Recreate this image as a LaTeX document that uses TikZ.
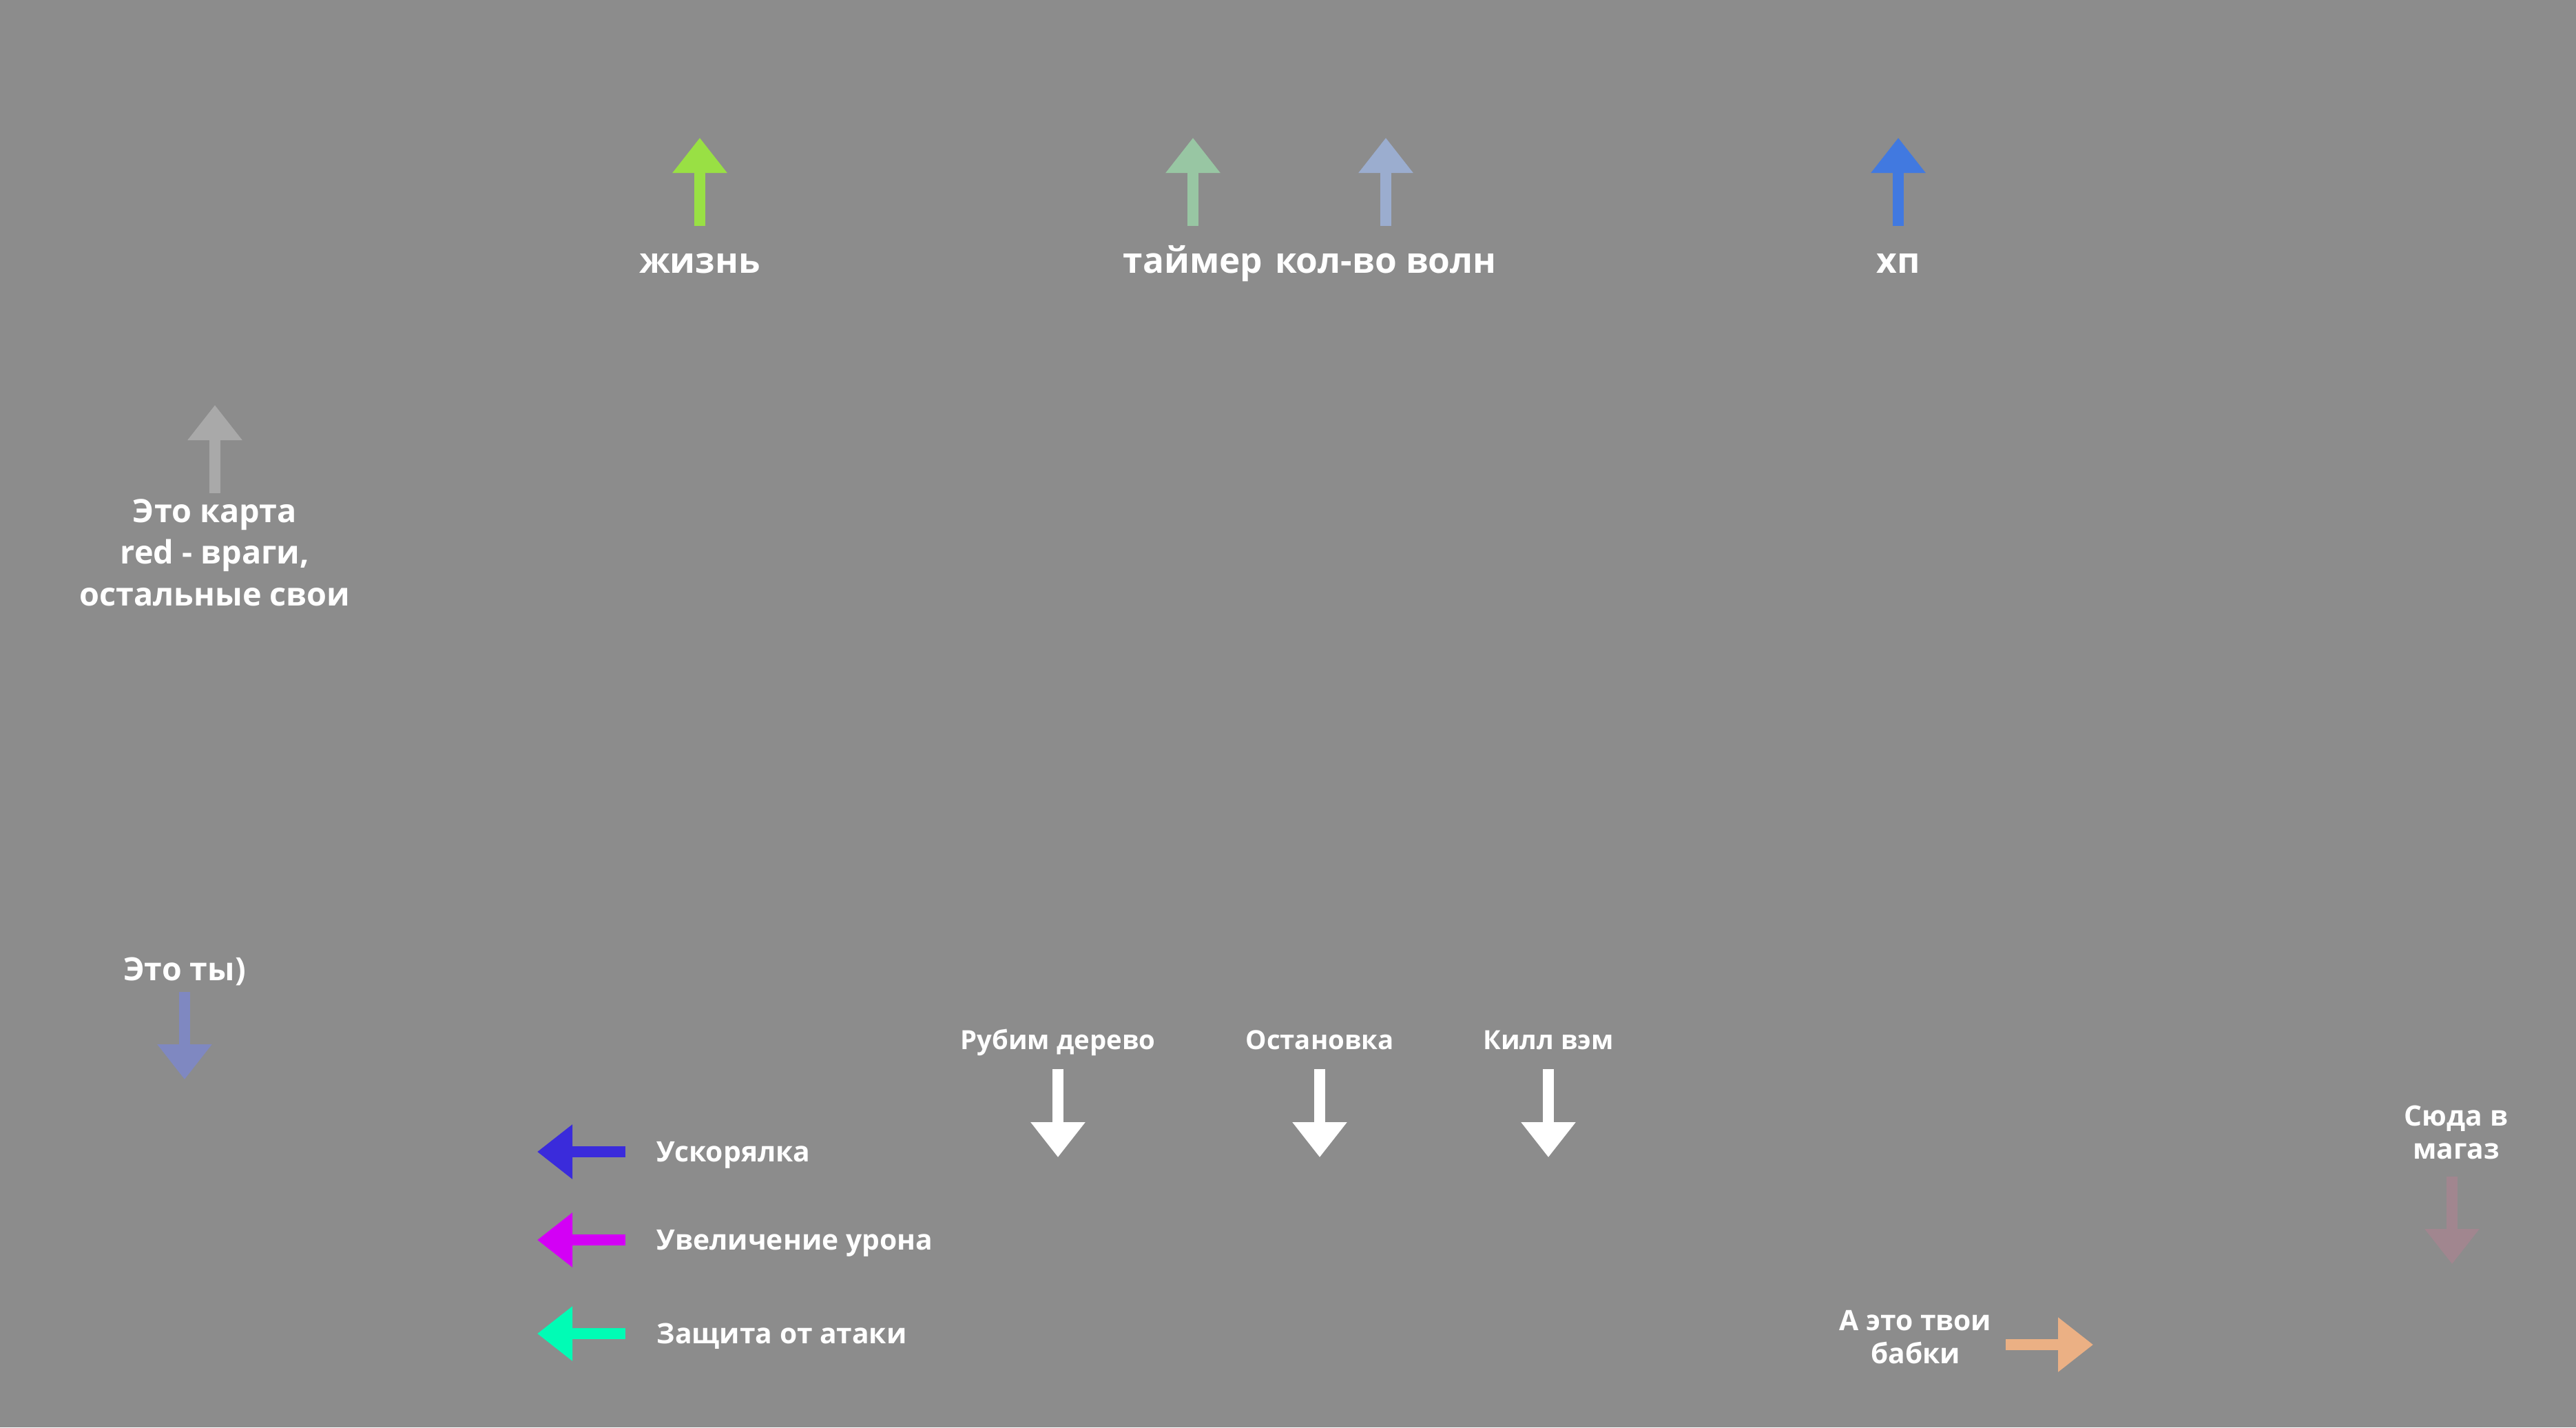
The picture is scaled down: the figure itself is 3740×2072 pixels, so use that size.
\documentclass[tikz,border=0pt]{standalone}
\usepackage{fontspec}
\setmainfont{Open Sans}
\usepackage{xcolor}
\usetikzlibrary{arrows.meta}
\definecolor{bgcol}{HTML}{8C8C8C}
\definecolor{lifecol}{HTML}{99E044}
\definecolor{timecol}{HTML}{98C6A3}
\definecolor{wavecol}{HTML}{9BADCF}
\definecolor{hpcol}{HTML}{4179E0}
\definecolor{mapcol}{HTML}{A9A9A9}
\definecolor{youcol}{HTML}{7F88C1}
\definecolor{boostcol}{HTML}{3A2BDB}
\definecolor{dmgcol}{HTML}{D300F5}
\definecolor{shieldcol}{HTML}{00FCB5}
\definecolor{moneycol}{HTML}{EBB084}
\definecolor{shopcol}{HTML}{A1868F}
\newcommand{\topfs}{\fontsize{14.6}{17}\selectfont}
\newcommand{\mapfs}{\fontsize{13.3}{17.1}\selectfont}
\newcommand{\youfs}{\fontsize{13.2}{15}\selectfont}
\newcommand{\sidefs}{\fontsize{11.6}{13.4}\selectfont}
\newcommand{\botfs}{\fontsize{10.9}{12}\selectfont}
\tikzset{
  lbl/.style = {text=white, inner sep=0pt, font=\bfseries},
  fat/.style = {line width=0.16cm, -{Triangle[width=0.76cm, length=0.51cm]}}
}

\begin{document}
\begin{tikzpicture}[x=0.01cm, y=-0.01cm]
      \fill[bgcol] (0,0) rectangle (3740,2072);
      % top bar
      \foreach \n/\x/\c/\t in {life/1016/lifecol/жизнь, timer/1732/timecol/таймер, waves/2012/wavecol/кол-во волн, hp/2756/hpcol/хп} {
        \node[lbl, anchor=base] (\n) at (\x,396) {\topfs \t};
        \coordinate (\n S) at (\x,328);
        \coordinate (\n T) at (\x,200);
        \draw[fat, \c] (\n S) -- (\n T);
      }
      % map (base = last line)
      \node[lbl, font=\bfseries\mapfs, anchor=base, align=center] (map) at (312,879) {Это карта\\red - враги,\\остальные свои};
      \coordinate (mapS) at (312,716);
      \coordinate (mapT) at (312,588);
      \draw[fat, mapcol] (mapS) -- (mapT);
      % player
      \node[lbl, anchor=base] (you) at (268,1423) {\youfs Это ты)};
      \coordinate (youS) at (268,1440);
      \coordinate (youT) at (268,1567);
      \draw[fat, youcol] (youS) -- (youT);
      % bonuses
      \foreach \n/\y/\c/\t in {boost/1672/boostcol/Ускорялка, dmg/1800/dmgcol/Увеличение урона, shield/1936/shieldcol/Защита от атаки} {
        \node[lbl, anchor=base west] (\n) at (953,\y+14) {\sidefs \t};
        \coordinate (\n S) at (908,\y);
        \coordinate (\n T) at (780,\y);
        \draw[fat, \c] (\n S) -- (\n T);
      }
      % buttons
      \foreach \n/\x/\t in {chop/1536/Рубим дерево, halt/1916/Остановка, kill/2248/Килл вэм} {
        \node[lbl, anchor=base] (\n) at (\x,1523) {\botfs \t};
        \coordinate (\n S) at (\x,1552);
        \coordinate (\n T) at (\x,1680);
        \draw[fat, white] (\n S) -- (\n T);
      }
      % money
      \node[lbl, font=\bfseries\sidefs, anchor=base, align=center] (money) at (2781,1979) {А это твои\\бабки};
      \coordinate (moneyS) at (2912,1952);
      \coordinate (moneyT) at (3039,1952);
      \draw[fat, moneycol] (moneyS) -- (moneyT);
      % shop
      \node[lbl, font=\bfseries\sidefs, anchor=base, align=center] (shop) at (3566,1682) {Сюда в\\магаз};
      \coordinate (shopS) at (3560,1708);
      \coordinate (shopT) at (3560,1835);
      \draw[fat, shopcol] (shopS) -- (shopT);
    \end{tikzpicture}
\end{document}
